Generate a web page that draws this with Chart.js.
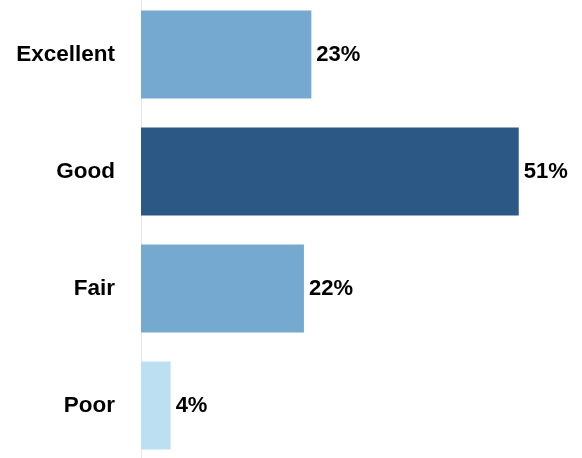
<!DOCTYPE html>
<html>
<head>
<meta charset="utf-8">
<script src="https://cdn.jsdelivr.net/npm/chart.js@4"></script>
<style>
  html, body { margin: 0; padding: 0; background: #ffffff; overflow: hidden; }
  #wrap { position: absolute; left: 0; top: -4px; width: 582px; height: 468px; }
</style>
</head>
<body>
<div id="wrap"><canvas id="chartRating"></canvas></div>
<script>
var categorias = ['Excellent', 'Good', 'Fair', 'Poor'];
var valores = [23, 51, 22, 4];
var cores = ['#76a9cf', '#2c5885', '#76a9cf', '#bcdff1'];

// label with the percentage at the end of each bar
const rotuloValor = {
    id: 'rotuloValor',
    afterDatasetsDraw(chart) {
        const ctx = chart.ctx;
        const meta = chart.getDatasetMeta(0);
        ctx.save();
        ctx.font = 'bold 22px "Liberation Sans", Arial, sans-serif';
        ctx.fillStyle = '#000000';
        ctx.textAlign = 'left';
        ctx.textBaseline = 'middle';
        meta.data.forEach(function (bar, i) {
            ctx.fillText(valores[i] + '%', bar.x + 5, bar.y);
        });
        ctx.restore();
    }
};

const dataRating = {
    labels: categorias,
    datasets: [{
        data: valores,
        backgroundColor: cores,
        borderWidth: 0,
        categoryPercentage: 1,
        barPercentage: 0.752
    }]
};

const configRating = {
    type: 'bar',
    data: dataRating,
    options: {
        indexAxis: 'y',
        responsive: true,
        maintainAspectRatio: false,
        animation: false,
        layout: { padding: { top: 0, bottom: 0, left: 0, right: 4 } },
        plugins: {
            legend: { display: false },
            tooltip: { enabled: false }
        },
        scales: {
            x: {
                min: 0,
                max: 59,
                display: false
            },
            y: {
                grid: { display: false, drawTicks: false },
                border: { display: true, color: '#e6e6e6', width: 1 },
                afterFit: function (scale) {
                    scale.width = 141;
                    scale.paddingTop = 0;
                    scale.paddingBottom = 0;
                },
                ticks: {
                    color: '#000000',
                    padding: 26,
                    font: { family: '"Liberation Sans", Arial, sans-serif', size: 22.5, weight: 'bold' }
                }
            }
        }
    },
    plugins: [rotuloValor]
};

const chartRating = new Chart(
    document.getElementById('chartRating'),
    configRating
);
</script>
</body>
</html>
